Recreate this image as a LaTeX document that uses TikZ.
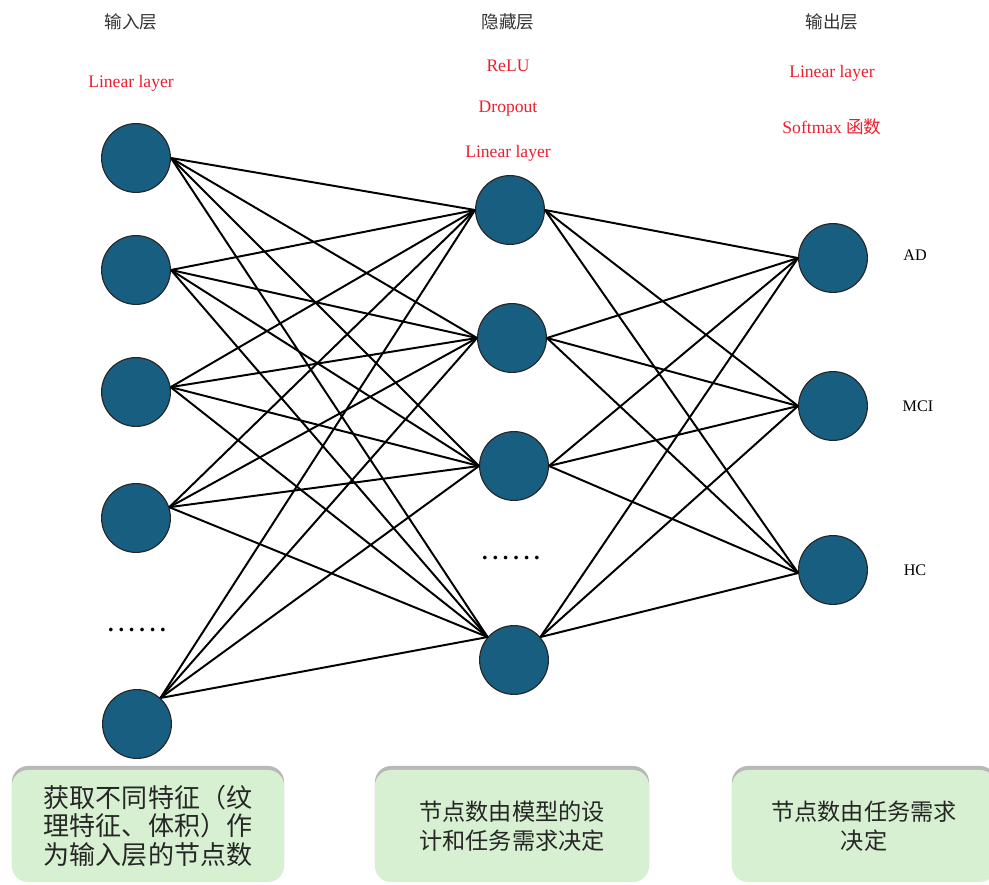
\documentclass[tikz,border=0pt]{standalone}
\usepackage{fontspec}
\setmainfont{Liberation Serif}
\newfontfamily\cjk{Noto Sans CJK SC}
\usepackage{tikz}
\usetikzlibrary{shadows}

\definecolor{nodeblue}{RGB}{24,94,128}
\definecolor{boxgreen}{RGB}{216,240,210}
\definecolor{labred}{RGB}{235,30,45}

\newcommand{\dotrow}{\bfseries .\hspace{3.4pt}.\hspace{3.4pt}.\hspace{3.4pt}.\hspace{3.4pt}.\hspace{3.4pt}.}

\begin{document}
\begin{tikzpicture}[x=0.025cm,y=-0.025cm]
% — styles ––––––––––––––––––––––––––
\tikzstyle{neuron}  =[circle,draw=black!85,line width=0.8pt,fill=nodeblue,minimum size=1.72cm,inner sep=0pt]
\tikzstyle{conn}    =[line width=1.4pt]
\tikzstyle{title}   =[font=\cjk\fontsize{12.5}{14}\selectfont,text=black!80]
\tikzstyle{redlab}  =[font=\fontsize{12.5}{14}\selectfont,text=labred]
\tikzstyle{outlab}  =[font=\fontsize{11.5}{13}\selectfont]
\tikzstyle{dotlab}  =[font=\fontsize{16}{16}\selectfont]
\tikzstyle{notebox} =[rounded corners=0.4cm,fill=boxgreen,draw=none,
  general shadow={fill=black!28,shadow yshift=0.1cm},
  font=\cjk\fontsize{16.5}{20.5}\selectfont,text=black!85,align=center]

\useasboundingbox (0,0) rectangle (989,885);

% --- layer titles ---------------------------------------------
\node[title] (tin)  at (131,22) {输入层};
\node[title] (thid) at (508,22) {隐藏层};
\node[title] (tout) at (832,22) {输出层};

% red operation labels
\node[redlab] (lin1)  at (131,83)  {Linear layer};
\node[redlab] (relu)  at (508,66)  {ReLU};
\node[redlab] (drop)  at (508,109) {Dropout};
\node[redlab] (lin2)  at (508,153) {Linear layer};
\node[redlab] (lin3)  at (832,73)  {Linear layer};
\node[redlab] (smax)  at (832,127) {Softmax {\cjk 函数}};

% --- input layer ----------------------------------------------
\node[neuron] (i1) at (136,158) {};
\node[neuron] (i2) at (136,270) {};
\node[neuron] (i3) at (136,392) {};
\node[neuron] (i4) at (136,518) {};
\node[neuron] (i5) at (137,724) {};
\node[dotlab] (idots) at (137,630) {\dotrow};

% --- hidden layer ---------------------------------------------
\node[neuron] (h1) at (510,210) {};
\node[neuron] (h2) at (512,338) {};
\node[neuron] (h3) at (514,466) {};
\node[neuron] (h4) at (514,660) {};
\node[dotlab] (hdots) at (511,558) {\dotrow};

% --- output layer ---------------------------------------------
\node[neuron] (o1) at (833,258) {};
\node[neuron] (o2) at (833,406) {};
\node[neuron] (o3) at (833,570) {};
\node[outlab] (ad)  at (915,255) {AD};
\node[outlab] (mci) at (918,406) {MCI};
\node[outlab] (hc)  at (915,570) {HC};

% --- connections (bundled at one border point per node) -------
\foreach \i/\a in {1/0,2/0,3/8,4/18,5/48}
  \foreach \h/\b in {1/180,2/180,3/180,4/139}
    \draw[conn] (i\i.\a) -- (h\h.\b);
\foreach \h/\a in {1/0,2/0,3/0,4/41}
  \foreach \o/\b in {1/180,2/180,3/185}
    \draw[conn] (h\h.\a) -- (o\o.\b);

% --- note boxes -----------------------------------------------
\node[notebox,minimum width=6.8cm,minimum height=2.8cm,
  font=\cjk\fontsize{18.5}{20.5}\selectfont] (nin) at (148,826)
  {获取不同特征（纹\\理特征、体积）作\\为输入层的节点数};
\node[notebox,minimum width=6.85cm,minimum height=2.8cm] (nhid) at (512,826)
  {节点数由模型的设\\计和任务需求决定};
\node[notebox,minimum width=6.6cm,minimum height=2.8cm] (nout) at (864,826)
  {节点数由任务需求\\决定};

\end{tikzpicture}
\end{document}
